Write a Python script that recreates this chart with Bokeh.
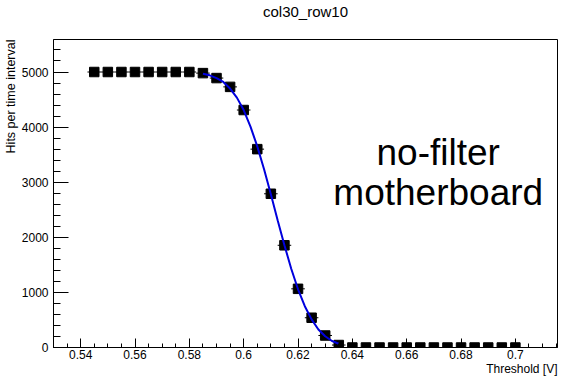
from bokeh.plotting import figure
from bokeh.models import (Label, SingleIntervalTicker, NumeralTickFormatter,
                          ColumnDataSource, Range1d, Title)
from bokeh.embed import file_html
from bokeh.resources import INLINE

# ---------------- data ----------------
chart_title = "col30_row10"
x_title = "Threshold [V]"
y_title = "Hits per time interval"
note_lines = ["no-filter", "motherboard"]

threshold = [0.545, 0.550, 0.555, 0.560, 0.565, 0.570, 0.575, 0.580,
             0.585, 0.590, 0.595, 0.600, 0.605, 0.610, 0.615, 0.620,
             0.625, 0.630, 0.635, 0.640, 0.645, 0.650, 0.655, 0.660,
             0.665, 0.670, 0.675, 0.680, 0.685, 0.690, 0.695, 0.700]
hits = [5000, 5000, 5000, 5000, 5000, 5000, 5000, 5000,
        4980, 4890, 4730, 4310, 3600, 2790, 1855, 1065,
        540, 218, 45, 0, 0, 0, 0, 0,
        0, 0, 0, 0, 0, 0, 0, 0]
bin_half_width = 0.0025

# fitted curve
fit_threshold = [0.5850, 0.5875, 0.5900, 0.5925, 0.5950, 0.5975, 0.6000,
                 0.6025, 0.6050, 0.6075, 0.6100, 0.6125, 0.6150, 0.6175,
                 0.6200, 0.6225, 0.6250, 0.6275, 0.6300, 0.6325, 0.6350]
fit_hits = [4970, 4940, 4890, 4820, 4700, 4535, 4310,
            4010, 3650, 3235, 2780, 2310, 1855, 1430,
            1057, 750, 510, 327, 204, 118, 69]

x_start, x_end = 0.53, 0.7155
y_start, y_end = 0, 5590

# ---------------- layout ----------------
W, H = 565, 379
BL, BR, BT, BB = 50, 8, 39, 32
FW, FH = W - BL - BR, H - BT - BB
FONT = "Liberation Sans"


def dx(px):  # horizontal pixel offset from frame left -> data x
    return x_start + px * (x_end - x_start) / FW


def dy(px):  # vertical pixel offset from frame bottom -> data y
    return y_start + px * (y_end - y_start) / FH


p = figure(width=W, height=H, output_backend="svg", toolbar_location=None,
           x_range=Range1d(x_start, x_end), y_range=Range1d(y_start, y_end),
           min_border_left=BL, min_border_right=BR,
           min_border_top=BT, min_border_bottom=BB,
           title=chart_title)
p.background_fill_color = "white"
p.border_fill_color = "white"
p.outline_line_color = "black"
p.outline_line_width = 1
p.xgrid.visible = False
p.ygrid.visible = False

p.title.align = "center"
p.title.vertical_align = "bottom"
p.title.text_font = FONT
p.title.text_font_size = "15px"
p.title.text_font_style = "normal"
p.title.text_color = "black"
p.title.standoff = 0

# blank spacer between the frame and the title
p.add_layout(Title(text=" ", text_font_size="1px", standoff=17), "above")

xa = p.xaxis[0]
xa.ticker = SingleIntervalTicker(interval=0.02, num_minor_ticks=4)
xa.formatter = NumeralTickFormatter(format="0.[00]")
xa.major_tick_in = 9
xa.major_tick_out = 0
xa.minor_tick_in = 4
xa.minor_tick_out = 0
xa.major_label_standoff = 2
xa.major_label_text_font = FONT
xa.major_label_text_font_size = "12px"
xa.major_label_text_color = "black"
xa.axis_line_color = "black"
xa.major_tick_line_color = "black"
xa.minor_tick_line_color = "black"

ya = p.yaxis[0]
ya.ticker = SingleIntervalTicker(interval=1000, num_minor_ticks=5)
ya.major_tick_in = 15
ya.major_tick_out = 0
ya.minor_tick_in = 7
ya.minor_tick_out = 0
ya.major_label_standoff = 5
ya.major_label_text_font = FONT
ya.major_label_text_font_size = "12px"
ya.major_label_text_color = "black"
ya.axis_line_color = "black"
ya.major_tick_line_color = "black"
ya.minor_tick_line_color = "black"

# axis titles, placed at the far ends of the axes
p.add_layout(Title(text=x_title, align="right", standoff=-4,
                   text_font=FONT, text_font_size="12px",
                   text_font_style="normal", text_color="black"), "below")
p.add_layout(Title(text=y_title, align="right", standoff=2,
                   text_font=FONT, text_font_size="12.5px",
                   text_font_style="normal", text_color="black"), "left")

# data points with bin-width bars
src = ColumnDataSource(dict(
    x=threshold, y=hits,
    xl=[t - bin_half_width for t in threshold],
    xr=[t + bin_half_width for t in threshold]))
p.segment(x0="xl", y0="y", x1="xr", y1="y", source=src,
          line_color="black", line_width=1)
p.scatter(x="x", y="y", source=src, marker="square", size=9.5,
          fill_color="black", line_color="black")

# fit curve
p.line(fit_threshold, fit_hits, line_color="#0000dd", line_width=2)

# note text inside the frame
p.add_layout(Label(x=dx(387), y=dy(195), text=note_lines[0],
                   text_align="center", text_baseline="middle",
                   text_font=FONT, text_font_size="37px", text_color="black"))
p.add_layout(Label(x=dx(387), y=dy(155), text=note_lines[1],
                   text_align="center", text_baseline="middle",
                   text_font=FONT, text_font_size="37px", text_color="black"))

open("out.html", "w").write(file_html(p, INLINE))
